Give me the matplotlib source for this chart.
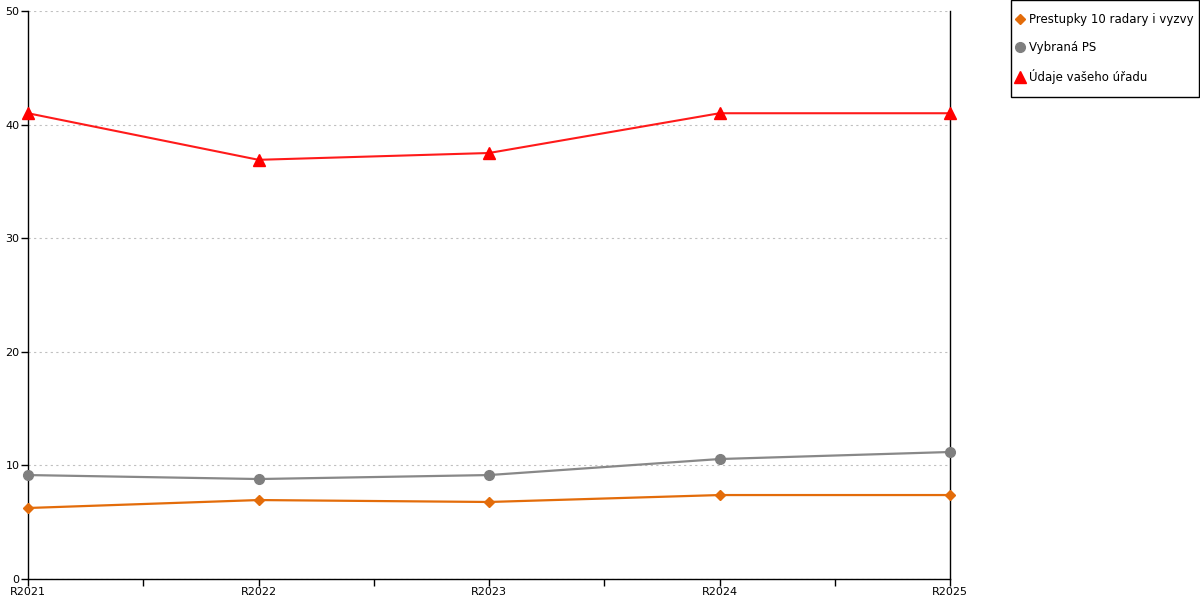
import numpy as np
import matplotlib.pyplot as plt
from matplotlib.patches import Rectangle
from matplotlib.ticker import MultipleLocator

# data
years = ['R2021', 'R2022', 'R2023', 'R2024', 'R2025']
prestupky = [6.25, 6.95, 6.78, 7.39, 7.39]
vybrana_ps = [9.15, 8.8, 9.15, 10.56, 11.18]
udaje_uradu = [41.0, 36.9, 37.5, 41.0, 41.0]

plt.rcParams['font.family'] = ['DejaVu Sans']
plt.rcParams['font.size'] = 8

fig = plt.figure(figsize=(12, 6), dpi=100)
ax = fig.add_axes([28/1200, 1 - 579/600, (950 - 28)/1200, (579 - 11)/600])

x = np.arange(len(years))
ax.plot(x, prestupky, color='#E36C0A', lw=1.6, marker='D', ms=5.5,
        label='Prestupky 10 radary i vyzvy', clip_on=False, zorder=3)
ax.plot(x, vybrana_ps, color='#888888', lw=1.6, marker='o', ms=7,
        mfc='#7f7f7f', mec='#7f7f7f', label='Vybraná PS', clip_on=False, zorder=3)
ax.plot(x, udaje_uradu, color='#FF1A1A', lw=1.5, marker='^', ms=8,
        mfc='#FF0000', mec='#FF0000', label='Údaje vašeho úřadu', clip_on=False, zorder=3)

ax.set_xlim(0, len(years) - 1)
ax.set_ylim(0, 50)
ax.set_xticks(x)
ax.set_xticklabels(years)
ax.xaxis.set_minor_locator(MultipleLocator(0.5))
ax.yaxis.set_major_locator(MultipleLocator(10))

ax.tick_params(axis='both', which='both', direction='out', length=5, width=1,
               colors='black', labelsize=8, pad=1)
ax.tick_params(axis='y', which='both', right=False)

ax.grid(axis='y', color='#c0c0c0', ls=(0, (2, 3)), lw=0.8)
ax.set_axisbelow(True)

ax.spines['top'].set_visible(False)
for s in ['left', 'bottom', 'right']:
    ax.spines[s].set_color('black')
    ax.spines[s].set_linewidth(1)

# legend entries without frame, box drawn separately
leg = fig.legend(loc='upper left', bbox_to_anchor=(1015.3/1200, 1 - 13/600),
                 frameon=False, fontsize=8.5, handlelength=0.8,
                 handletextpad=0.4, labelspacing=1.28, borderpad=0,
                 borderaxespad=0)
for h in leg.get_lines():
    h.set_linestyle('none')
fig.patches.append(Rectangle((1010.5/1200, 1 - 97/600), 188/1200, 96.5/600,
                             transform=fig.transFigure, fill=False,
                             ec='black', lw=1))

fig.savefig('out.png', dpi=100)
